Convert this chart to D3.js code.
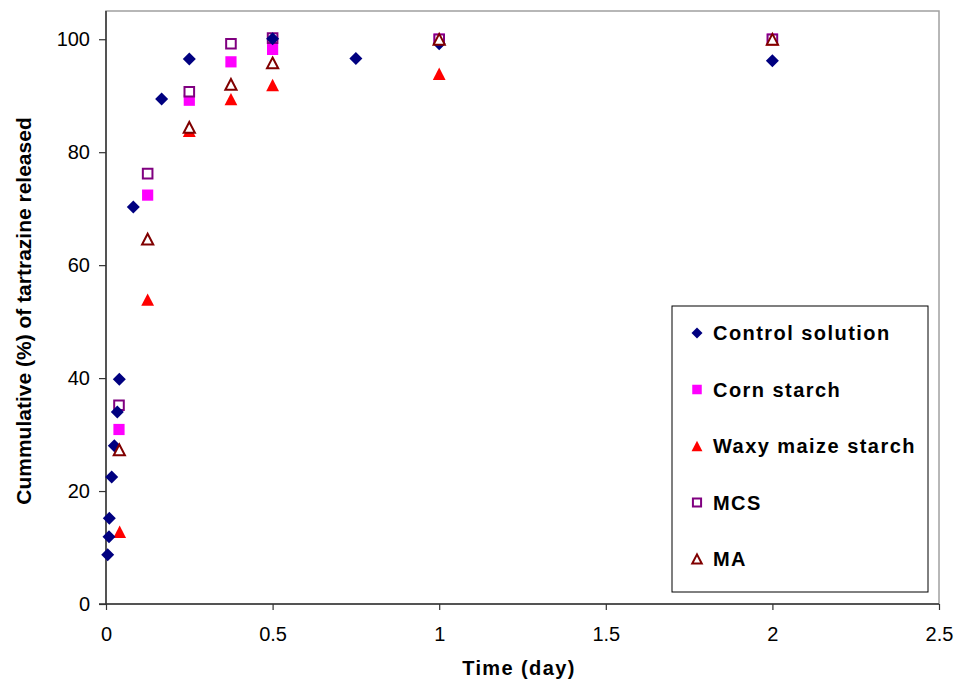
<!DOCTYPE html>
<html>
<head>
<meta charset="utf-8">
<script src="https://cdn.jsdelivr.net/npm/d3@7"></script>
<style>
  body { margin: 0; background: #fff; }
  svg { display: block; font-family: "Liberation Sans", Arial, sans-serif; }
</style>
</head>
<body>
<div id="chart"></div>
<script>
// Release data (time in days, cumulative % released)
const control_time = [0.005, 0.009, 0.010, 0.017, 0.025, 0.034, 0.040, 0.082, 0.167, 0.25, 0.5, 0.75, 1, 2];
const control_value = [8.7, 11.9, 15.2, 22.5, 28.0, 34.0, 39.8, 70.3, 89.4, 96.5, 100.1, 96.6, 99.2, 96.2];

const corn_time = [0.039, 0.125, 0.25, 0.375, 0.5, 1, 2];
const corn_value = [30.9, 72.4, 89.2, 96.0, 98.2, 100, 100];

const waxy_time = [0.041, 0.125, 0.25, 0.375, 0.5, 1, 2];
const waxy_value = [12.8, 53.9, 83.8, 89.4, 91.9, 93.9, 100];

const mcs_time = [0.039, 0.125, 0.25, 0.375, 0.5, 1, 2];
const mcs_value = [35.2, 76.2, 90.7, 99.2, 100.2, 100, 100];

const ma_time = [0.040, 0.125, 0.25, 0.375, 0.5, 1, 2];
const ma_value = [27.3, 64.6, 84.4, 92.0, 95.8, 100, 100];

const x_ticks = [0, 0.5, 1, 1.5, 2, 2.5];
const y_ticks = [0, 20, 40, 60, 80, 100];

function D3ScatterChart() {
    const width = 961;
    const height = 685;
    const plot = {left: 106, right: 939, top: 11, bottom: 604};
    const font_size = 20;

    // Series in legend order, drawing order set separately
    const series = [
        {name: "Control solution", time: control_time, value: control_value, shape: "diamond", color: "#000080", hollow: false},
        {name: "Corn starch", time: corn_time, value: corn_value, shape: "square", color: "#ff00ff", hollow: false},
        {name: "Waxy maize starch", time: waxy_time, value: waxy_value, shape: "triangle", color: "#ff0000", hollow: false},
        {name: "MCS", time: mcs_time, value: mcs_value, shape: "square", color: "#800080", hollow: true},
        {name: "MA", time: ma_time, value: ma_value, shape: "triangle", color: "#800000", hollow: true}
    ];
    const draw_order = [1, 2, 3, 0, 4];

    const x = d3.scaleLinear().domain([0, 2.5]).range([plot.left, plot.right]);
    const y = d3.scaleLinear().domain([0, 105]).range([plot.bottom, plot.top]);

    // Marker path around (0,0)
    function marker_path(shape, hollow, k) {
        if (shape === "diamond") {
            const r = 6.5 * k;
            return `M0,${-r}L${r},0L0,${r}L${-r},0Z`;
        }
        if (shape === "square") {
            const h = (hollow ? 4.8 : 5.6) * k;
            return `M${-h},${-h}H${h}V${h}H${-h}Z`;
        }
        // triangle
        const w = (hollow ? 5.6 : 6.4) * k;
        const t = (hollow ? 5.4 : 6.2) * k;
        return `M0,${-t}L${w},${t}L${-w},${t}Z`;
    }

    function style_marker(sel, s, k) {
        sel.attr("d", marker_path(s.shape, s.hollow, k || 1))
            .attr("fill", s.hollow ? "#fff" : s.color)
            .attr("stroke", s.hollow ? s.color : "none")
            .attr("stroke-width", s.hollow ? 2 : 0);
    }

    const svg = d3.select("#chart").append("svg")
        .attr("width", width).attr("height", height)
        .attr("viewBox", [0, 0, width, height]);

    // Plot area frame
    svg.append("rect")
        .attr("x", plot.left).attr("y", plot.top)
        .attr("width", plot.right - plot.left).attr("height", plot.bottom - plot.top)
        .attr("fill", "none").attr("stroke", "#a0a0a0").attr("stroke-width", 1.5);

    // Y axis
    const y_axis = svg.append("g")
        .attr("transform", `translate(${plot.left},0)`)
        .call(d3.axisLeft(y).tickValues(y_ticks).tickSize(7).tickPadding(9).tickFormat(d3.format("d")));
    y_axis.select(".domain").attr("d", `M0,${plot.top}V${plot.bottom}`);

    // X axis
    const x_axis = svg.append("g")
        .attr("transform", `translate(0,${plot.bottom})`)
        .call(d3.axisBottom(x).tickValues(x_ticks).tickSize(6).tickPadding(17).tickFormat(d => d));
    x_axis.select(".domain").attr("d", `M${plot.left - 7},0H${plot.right}`);

    svg.selectAll(".domain").attr("stroke", "#333").attr("stroke-width", 1.5);
    svg.selectAll(".tick line").attr("stroke", "#333").attr("stroke-width", 1.2);
    svg.selectAll(".tick text")
        .attr("fill", "#000")
        .style("font-size", font_size + "px")
        .style("font-family", '"Liberation Sans", Arial, sans-serif');

    // Axis titles
    svg.append("text")
        .attr("x", 519).attr("y", 675)
        .attr("text-anchor", "middle")
        .style("font-size", "20px").style("font-weight", "bold")
        .style("letter-spacing", "1.4px")
        .text("Time (day)");

    svg.append("text")
        .attr("transform", "translate(31,311) rotate(-90)")
        .attr("text-anchor", "middle")
        .style("font-size", "21px").style("font-weight", "bold")
        .text("Cummulative (%) of tartrazine released");

    // Data points
    draw_order.forEach(i => {
        const s = series[i];
        const pts = s.time.map((t, k) => ({t: t, v: s.value[k]}));
        svg.append("g")
            .selectAll("path")
            .data(pts)
            .join("path")
            .attr("transform", d => `translate(${x(d.t)},${y(d.v)})`)
            .call(style_marker, s);
    });

    // Legend
    const legend = svg.append("g");
    legend.append("rect")
        .attr("x", 672).attr("y", 306)
        .attr("width", 256).attr("height", 286)
        .attr("fill", "#fff").attr("stroke", "#000").attr("stroke-width", 1);

    const item = legend.selectAll("g.item")
        .data(series)
        .join("g")
        .attr("class", "item")
        .attr("transform", (d, i) => `translate(697,${333 + i * 56.5})`);
    item.append("path").each(function (d) {
        d3.select(this).call(style_marker, d, 0.85);
    });
    item.append("text")
        .attr("x", 16).attr("dy", "0.35em")
        .style("font-size", "20px").style("font-weight", "bold")
        .style("letter-spacing", "1.45px")
        .text(d => d.name);
}

D3ScatterChart();
</script>
</body>
</html>
